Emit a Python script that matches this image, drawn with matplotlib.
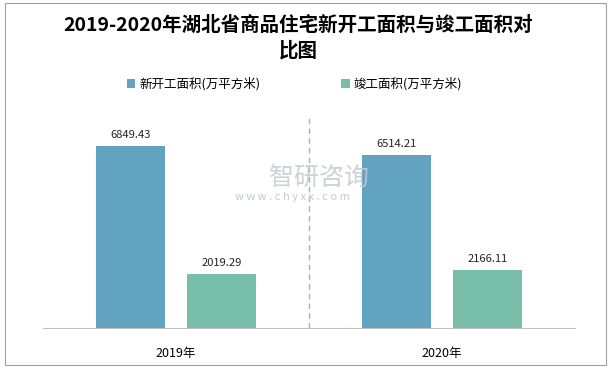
import matplotlib
matplotlib.use('Agg')
import numpy as np
from matplotlib import pyplot as plt
from matplotlib.patches import Rectangle

plt.rcParams['font.family'] = ['Noto Sans CJK SC', 'DejaVu Sans']

years = ['2019年', '2020年']
new_start = [6849.43, 6514.21]
completed = [2019.29, 2166.11]
series_names = ['新开工面积(万平方米)', '竣工面积(万平方米)']
colors = ['#62A3C2', '#77BFA8']

fig = plt.figure(figsize=(6.11, 3.68), dpi=100)
# outer frame
fig.patches.append(Rectangle((0.008, 0.008), 0.984, 0.984, transform=fig.transFigure,
                             fill=False, edgecolor='#A0A0A0', linewidth=0.8))

ax = fig.add_axes([43 / 611, 1 - 328 / 368, 532 / 611, 213 / 368])
x = np.arange(len(years))
w = 0.26
off = 0.171
b1 = ax.bar(x - off, new_start, w, color=colors[0])
b2 = ax.bar(x + off, completed, w, color=colors[1])
for bars, vals in ((b1, new_start), (b2, completed)):
    for r, v in zip(bars, vals):
        ax.text(r.get_x() + r.get_width() / 2, v + 220, f'{v:.2f}',
                ha='center', va='bottom', fontsize=8, color='#222222')

ax.set_xlim(-0.5, 1.5)
ax.set_ylim(0, 8000)
ax.axvline(0.5, color='#B0B0B0', linestyle=(0, (4, 3)), linewidth=1)
for s in ['top', 'right', 'left']:
    ax.spines[s].set_visible(False)
ax.spines['bottom'].set_color('#BFBFBF')
ax.set_yticks([])
ax.set_xticks(x)
ax.set_xticklabels(years, fontsize=9)
ax.tick_params(axis='x', length=0, pad=14)

# watermark
fig.text(0.44, 1 - 178 / 368, '智研咨询', fontsize=18, color='#C3C9D1', ha='left', va='center', alpha=0.85)
fig.text(0.385, 1 - 197 / 368, 'w w w . c h y x x . c o m', fontsize=8, color='#C3C9D1',
         ha='left', va='center')

fig.text(0.5 - 0.012, 1 - 25 / 368, '2019-2020年湖北省商品住宅新开工面积与竣工面积对', fontsize=14,
         fontweight='bold', ha='center', va='center')
fig.text(0.5 - 0.012, 1 - 51 / 368, '比图', fontsize=14, fontweight='bold', ha='center', va='center')

leg = ax.legend([b1, b2], series_names, loc='center', bbox_to_anchor=(0.482, 1 - 84 / 368),
                bbox_transform=fig.transFigure, ncol=2, frameon=False, fontsize=9,
                handlelength=0.7, handleheight=0.7, handletextpad=0.3, columnspacing=6.5)

fig.savefig('out.png', dpi=100)
